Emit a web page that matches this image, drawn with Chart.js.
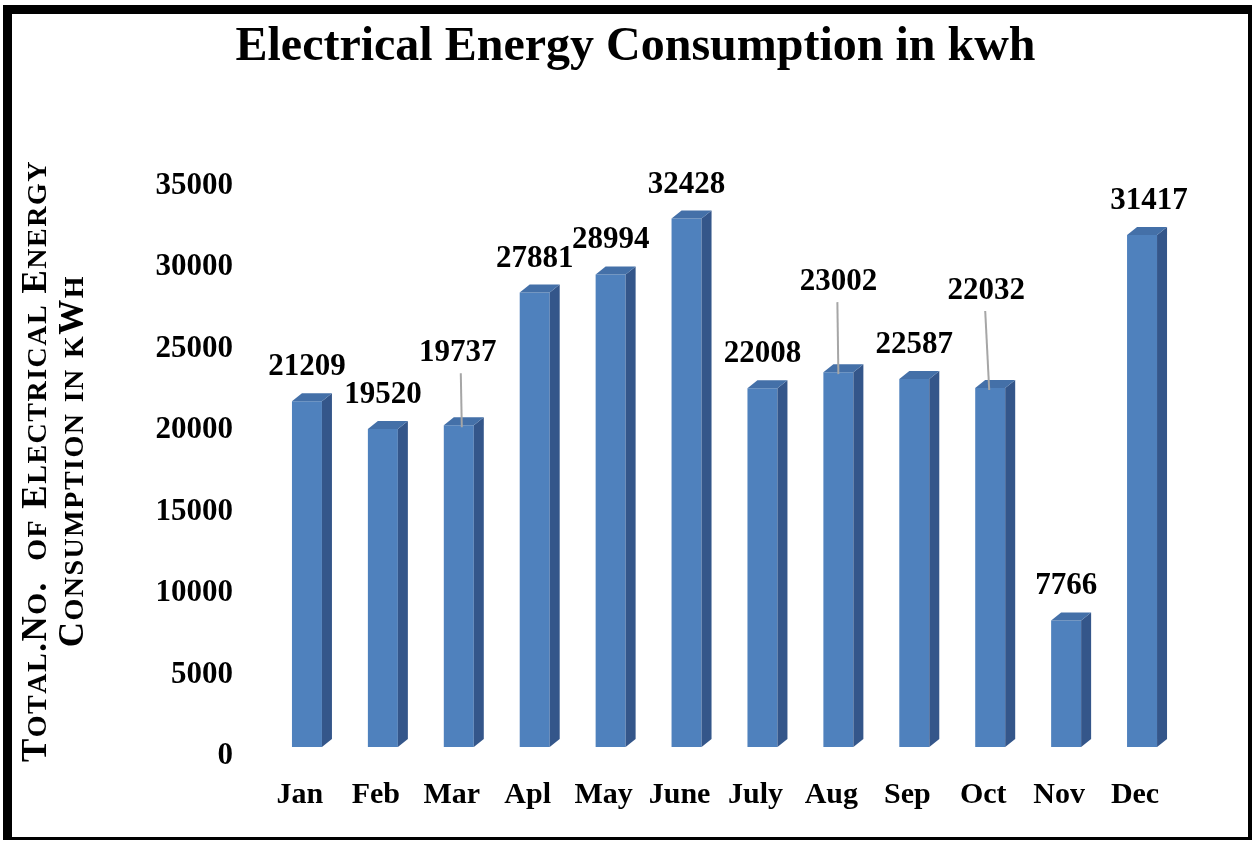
<!DOCTYPE html>
<html>
<head>
<meta charset="utf-8">
<title>Electrical Energy Consumption in kwh</title>
<script src="https://cdn.jsdelivr.net/npm/chart.js@4.4.1/dist/chart.umd.min.js"></script>
<style>
html, body { margin: 0; padding: 0; background: #ffffff; }
#frame {
  position: absolute; left: 3px; top: 5px;
  width: 1236px; height: 823px;
  border-left: 9px solid #000; border-top: 9px solid #000;
  border-right: 4px solid #000; border-bottom: 3px solid #000;
  background: #fff;
}
canvas { display: block; }
</style>
</head>
<body>
<div id="frame"><canvas id="chart" width="1236" height="823"></canvas></div>
<script>
// ---- data ----
const categories = ['Jan', 'Feb', 'Mar', 'Apl', 'May', 'June', 'July', 'Aug', 'Sep', 'Oct', 'Nov', 'Dec'];
const consumption = [21209, 19520, 19737, 27881, 28994, 32428, 22008, 23002, 22587, 22032, 7766, 31417];
const yMin = 0;
const yMax = 35000;
const yStep = 5000;
const chartTitle = 'Electrical Energy Consumption in kwh';
const yAxisTitle = ['Total.No.  of Electrical Energy', 'Consumption in kWh'];

const SERIF = "'Liberation Serif', 'Times New Roman', serif";

// 3D side/top faces for the columns
const bar3d = {
  id: 'bar3d',
  afterDatasetsDraw(chart, args, opts) {
    const ctx = chart.ctx;
    const meta = chart.getDatasetMeta(0);
    ctx.save();
    meta.data.forEach(el => {
      const p = el.getProps(['x', 'y', 'base', 'width'], true);
      const l = p.x - p.width / 2, r = p.x + p.width / 2;
      const dx = opts.dx, dy = opts.dy;
      ctx.fillStyle = opts.sideColor;
      ctx.beginPath();
      ctx.moveTo(r, p.y);
      ctx.lineTo(r + dx, p.y - dy);
      ctx.lineTo(r + dx, p.base - dy);
      ctx.lineTo(r, p.base);
      ctx.closePath();
      ctx.fill();
      ctx.fillStyle = opts.topColor;
      ctx.beginPath();
      ctx.moveTo(l, p.y);
      ctx.lineTo(l + dx, p.y - dy);
      ctx.lineTo(r + dx, p.y - dy);
      ctx.lineTo(r, p.y);
      ctx.closePath();
      ctx.fill();
    });
    ctx.restore();
  }
};

// value labels (with leader lines for moved labels)
const valueLabels = {
  id: 'valueLabels',
  afterDatasetsDraw(chart, args, opts) {
    const ctx = chart.ctx;
    const meta = chart.getDatasetMeta(0);
    const values = chart.data.datasets[0].data;
    ctx.save();
    ctx.font = opts.font;
    ctx.fillStyle = opts.color;
    ctx.textAlign = 'center';
    ctx.textBaseline = 'middle';
    meta.data.forEach((el, i) => {
      const p = el.getProps(['x', 'y'], true);
      const moved = opts.moved[i];
      const shift = opts.shift[i] || [0, 0];
      let lx = p.x + shift[0];
      let ly = p.y - opts.gap + shift[1];
      if (moved) {
        lx = p.x + moved[0];
        ly = p.y + moved[1];
        ctx.strokeStyle = opts.leaderColor;
        ctx.lineWidth = 2;
        ctx.beginPath();
        ctx.moveTo(lx + moved[2], ly + 20);
        ctx.lineTo(p.x + moved[3], p.y + 2);
        ctx.stroke();
      }
      ctx.fillText(String(values[i]), lx, ly);
    });
    ctx.restore();
  }
};

// rotated small-caps axis title (two lines)
const smallCapsTitle = {
  id: 'smallCapsTitle',
  afterDraw(chart, args, opts) {
    const ctx = chart.ctx;
    const area = chart.chartArea;
    const cy = (area.top + area.bottom) / 2;
    const fontFor = ch => {
      const isLower = ch !== ch.toUpperCase();
      return 'bold ' + (isLower ? opts.smallSize : opts.capSize) + 'px ' + SERIF;
    };
    ctx.save();
    ctx.fillStyle = opts.color;
    ctx.textBaseline = 'alphabetic';
    ctx.textAlign = 'left';
    opts.lines.forEach((line, li) => {
      const chars = Array.from(line);
      let total = 0;
      const widths = chars.map(ch => {
        ctx.font = fontFor(ch);
        const w = ctx.measureText(ch.toUpperCase()).width + opts.spacing;
        total += w;
        return w;
      });
      total -= opts.spacing;
      ctx.save();
      ctx.translate(opts.baselines[li], cy);
      ctx.rotate(-Math.PI / 2);
      let x = -total / 2;
      chars.forEach((ch, k) => {
        ctx.font = fontFor(ch);
        ctx.fillText(ch.toUpperCase(), x, 0);
        x += widths[k];
      });
      ctx.restore();
    });
    ctx.restore();
  }
};

Chart.defaults.font.family = SERIF;
Chart.defaults.color = '#000';

new Chart(document.getElementById('chart'), {
  type: 'bar',
  data: {
    labels: categories,
    datasets: [{
      label: 'Consumption (kWh)',
      data: consumption,
      backgroundColor: '#4F81BD',
      borderWidth: 0,
      barPercentage: 0.395,
      categoryPercentage: 1.0
    }]
  },
  options: {
    responsive: false,
    animation: false,
    devicePixelRatio: 1,
    layout: { padding: { left: 11, right: 0, top: 0, bottom: 24 } },
    plugins: {
      legend: { display: false },
      tooltip: { enabled: false },
      title: {
        display: true,
        text: chartTitle,
        color: '#000',
        font: { family: SERIF, size: 48, weight: 'bold', lineHeight: 1.2 },
        padding: { top: 5, bottom: 100 }
      },
      bar3d: { dx: 10, dy: 8, sideColor: '#34568A', topColor: '#4470A8' },
      valueLabels: {
        font: "bold 31px " + SERIF,
        color: '#000',
        gap: 34,
        leaderColor: '#A6A6A6',
        shift: { 11: [7, 0] },
        moved: { 2: [-1, -72, 3, 3], 7: [0, -90, -1, 0], 9: [-4, -97, -1, -1] }
      },
      smallCapsTitle: {
        lines: yAxisTitle,
        baselines: [34, 71],
        capSize: 35,
        smallSize: 28,
        spacing: 1.5,
        color: '#000'
      }
    },
    scales: {
      x: {
        grid: { display: false, drawTicks: false },
        border: { display: false },
        ticks: {
          color: '#000',
          font: { family: SERIF, size: 30, weight: 'bold', lineHeight: 1.2 },
          padding: 30,
          labelOffset: -7,
          maxRotation: 0,
          autoSkip: false
        },
        afterFit(s) { s.height = 66; }
      },
      y: {
        min: yMin,
        max: yMax,
        grid: { display: false, drawTicks: false },
        border: { display: false },
        ticks: {
          stepSize: yStep,
          color: '#000',
          font: { family: SERIF, size: 31, weight: 'bold' },
          padding: 36,
          labelOffset: 9,
          callback: v => String(v)
        },
        title: { display: false, text: yAxisTitle.join(' ') },
        afterFit(s) { s.width = 246; s.paddingTop = 0; s.paddingBottom = 0; }
      },
      yRight: {
        position: 'right',
        display: true,
        grid: { display: false, drawTicks: false },
        border: { display: false },
        ticks: { display: false },
        afterFit(s) { s.width = 68; s.paddingTop = 0; s.paddingBottom = 0; }
      }
    }
  },
  plugins: [bar3d, valueLabels, smallCapsTitle]
});
</script>
</body>
</html>
